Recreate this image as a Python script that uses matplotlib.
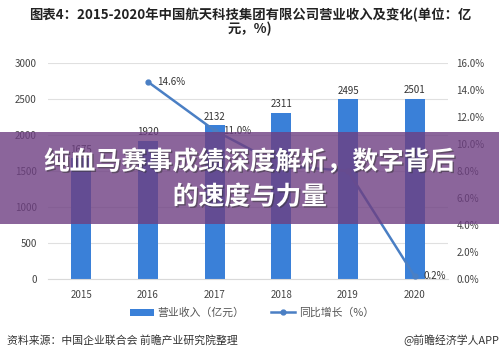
import matplotlib
matplotlib.use("Agg")
import matplotlib.pyplot as plt
from matplotlib.patches import Rectangle
import matplotlib.patheffects as pe

plt.rcParams['font.family'] = ['Noto Sans CJK SC', 'DejaVu Sans']

years = ['2015', '2016', '2017', '2018', '2019', '2020']
revenue = [1675, 1920, 2132, 2311, 2495, 2501]
growth_years = ['2016', '2017', '2018', '2019', '2020']
growth = [14.6, 11.0, 8.4, 8.0, 0.2]
growth_labels = {'2016': '14.6%', '2017': '11.0%', '2020': '0.2%'}

title = '图表4：2015-2020年中国航天科技集团有限公司营业收入及变化(单位：亿\n元，%)'
source = '资料来源：中国企业联合会 前瞻产业研究院整理'
credit = '@前瞻经济学人APP'
banner_lines = ['纯血马赛事成绩深度解析，数字背后', '的速度与力量']

W, H = 499, 357
fig = plt.figure(figsize=(W / 100, H / 100), dpi=100)
fig.patch.set_facecolor('white')

ax = fig.add_axes([48 / W, 1 - 279 / H, 400 / W, 216 / H])
x = list(range(len(years)))
bar_color = '#3a80d8'
line_color = '#4a7fc4'
ax.bar(x, revenue, width=0.3, color=bar_color, zorder=2, label='营业收入（亿元）')
for xi, v in zip(x, revenue):
    ax.text(xi, v + 50, str(v), ha='center', va='bottom', fontsize=7, color='#333333')
ax.set_xlim(-0.5, 5.5)
ax.set_ylim(0, 3000)
ax.set_yticks(range(0, 3001, 500))
ax.set_xticks(x)
ax.set_xticklabels(years)
ax.grid(axis='y', color='#e0e0e0', linewidth=0.8, zorder=0)
ax.set_axisbelow(True)
for s in ['top', 'right', 'left']:
    ax.spines[s].set_visible(False)
ax.spines['bottom'].set_color('#d9d9d9')
ax.tick_params(length=0, labelsize=7, colors='#444444', pad=8)

ax2 = ax.twinx()
gx = [years.index(y) for y in growth_years]
ax2.plot(gx, growth, color=line_color, linewidth=1.8, marker='o', markersize=3.5, zorder=3,
         label='同比增长（%）')
for y, v in zip(growth_years, growth):
    if y in growth_labels:
        ax2.text(years.index(y) + 0.13, v, growth_labels[y], ha='left', va='center',
                 fontsize=7, color='#333333')
ax2.set_ylim(0, 16)
ax2.set_yticks(range(0, 17, 2))
ax2.set_yticklabels([f'{t:.1f}%' for t in range(0, 17, 2)])
for s in ['top', 'right', 'left', 'bottom']:
    ax2.spines[s].set_visible(False)
ax2.tick_params(length=0, labelsize=7, colors='#444444', pad=6)

h1, l1 = ax.get_legend_handles_labels()
h2, l2 = ax2.get_legend_handles_labels()
fig.legend(h1 + h2, l1 + l2, loc='center', bbox_to_anchor=(252 / W, 1 - 313 / H), ncol=2,
           frameon=False, fontsize=7.8, handlelength=2.2, columnspacing=2.5,
           labelcolor='#555555', handletextpad=0.3)

fig.text(250 / W, 1 - 22 / H, title, ha='center', va='center', fontsize=9.6,
         fontweight='bold', color='#222222', linespacing=1.0)
fig.text(7 / W, 1 - 340 / H, source, ha='left', va='center', fontsize=7.8, color='#333333')
fig.text(499 / W, 1 - 340 / H, credit, ha='right', va='center', fontsize=7.8, color='#333333')

fig.patches.append(Rectangle((0, 1 - 224 / H), 1, 92 / H, transform=fig.transFigure,
                             facecolor='#6e3f82', alpha=0.8, zorder=10))
for txt, yc in zip(banner_lines, [162, 197]):
    fig.text(250 / W, 1 - yc / H, txt, ha='center', va='center', fontsize=18.5,
             fontweight='bold', color='white', zorder=11,
             path_effects=[pe.withSimplePatchShadow(offset=(1, -1), shadow_rgbFace='#333333', alpha=0.5)])

fig.savefig('out.png', dpi=100, facecolor='white')
